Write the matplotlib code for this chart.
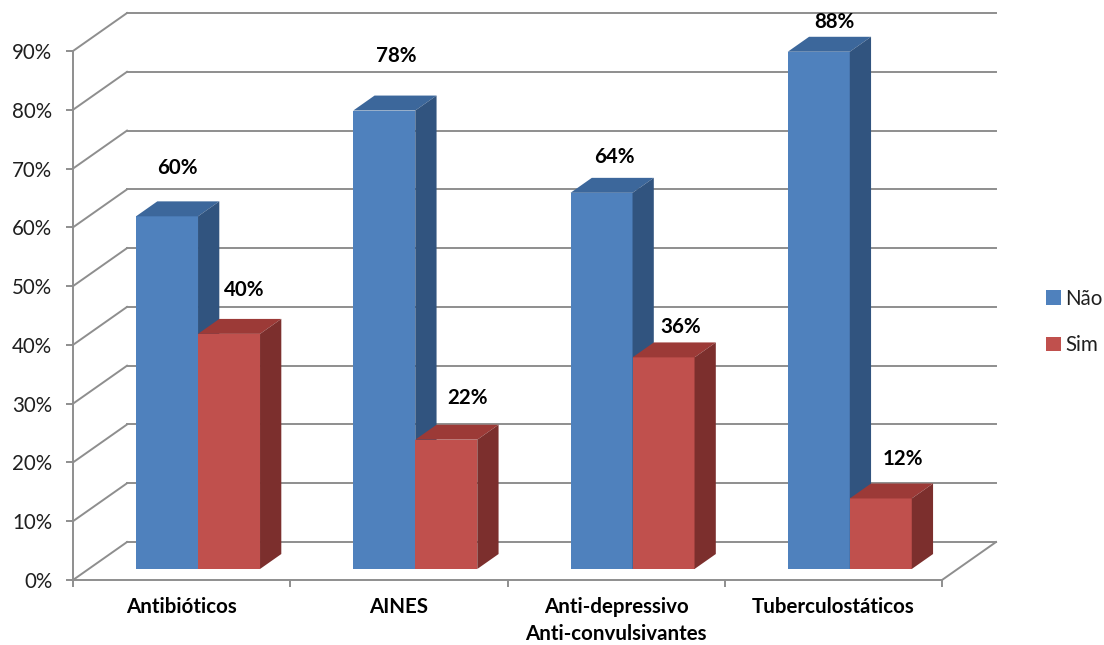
import matplotlib
matplotlib.use("Agg")
import matplotlib.pyplot as plt
from matplotlib.patches import Polygon, Patch

plt.rcParams['font.family'] = ['Lato', 'DejaVu Sans']

# ---- data -------------------------------------------------------------
categories = ["Antibióticos", "AINES", "Anti-depressivo\nAnti-convulsivantes", "Tuberculostáticos"]
nao = [60, 78, 64, 88]
sim = [40, 22, 36, 12]
series_names = ["Não", "Sim"]
y_ticks = [0, 10, 20, 30, 40, 50, 60, 70, 80, 90]

# label nudges (pixels right, pixels up) from the front-top centre of each bar
nao_label_nudge = [(10, 48), (12, 55), (13, 36), (16, 30)]
sim_label_nudge = [(15, 44), (21, 42), (17, 30), (22, 39)]

# ---- styling ----------------------------------------------------------
GRID = "#8e8e8e"
TEXT = "#1f1f1f"
FS = 14.8
faces = {
    "Não": ("#4f81bd", "#3c679b", "#31547f"),   # front, top, side
    "Sim": ("#c0504d", "#9c3a37", "#7c2f2d"),
}

W, H = 1104, 645
fig = plt.figure(figsize=(W / 100, H / 100), dpi=100)
ax = fig.add_axes([73 / W, 65 / H, 869 / W, 529 / H])
ax.set_xlim(0, 4)
ax.set_ylim(0, 90)

# oblique projection of the depth axis (full depth of the floor)
DX = 0.2486     # in category units
DY = 6.46       # in percent units
Z0, Z1 = 0.29, 0.684   # bars occupy this slice of the depth
INSET = 0.218   # gap from category start to first bar
BW = 0.2854     # bar width

# back wall gridlines and left wall diagonals
for v in y_ticks:
    ax.plot([0, DX], [v, v + DY], color=GRID, lw=1.4, clip_on=False, zorder=1)
    ax.plot([DX, 4 + DX], [v + DY, v + DY], color=GRID, lw=1.4, clip_on=False, zorder=1)
# right edge of the floor
ax.plot([4, 4 + DX], [0, DY], color=GRID, lw=1.4, clip_on=False, zorder=1)


def draw_bar(x_left, value, name):
    front, top, side = faces[name]
    b = Z0 * DY
    xl = x_left + Z0 * DX
    xr = xl + BW
    t = b + value
    ddx, ddy = (Z1 - Z0) * DX, (Z1 - Z0) * DY
    ax.bar(xl, value, width=BW, bottom=b, align="edge", color=front,
           linewidth=0, zorder=3, clip_on=False)
    ax.add_patch(Polygon([(xl, t), (xr, t), (xr + ddx, t + ddy), (xl + ddx, t + ddy)],
                         closed=True, facecolor=top, edgecolor="none", zorder=3, clip_on=False))
    ax.add_patch(Polygon([(xr, b), (xr + ddx, b + ddy), (xr + ddx, t + ddy), (xr, t)],
                         closed=True, facecolor=side, edgecolor="none", zorder=3, clip_on=False))
    return xl + BW / 2, t


for i in range(len(categories)):
    for j, (vals, nudges, name) in enumerate(((nao, nao_label_nudge, "Não"),
                                              (sim, sim_label_nudge, "Sim"))):
        cx, ty = draw_bar(i + INSET + j * BW, vals[i], name)
        ndx, ndy = nudges[i]
        ax.annotate(f"{vals[i]}%", (cx, ty), xytext=(ndx * 0.72, ndy * 0.72),
                    textcoords="offset points", ha="center", va="center",
                    fontsize=FS, fontweight="bold", color="black", zorder=5,
                    annotation_clip=False)

# axes frame
for s in ("top", "right"):
    ax.spines[s].set_visible(False)
for s in ("left", "bottom"):
    ax.spines[s].set_color(GRID)
    ax.spines[s].set_linewidth(1.4)

ax.set_yticks(y_ticks)
ax.set_yticklabels([f"{v}%" for v in y_ticks])
ax.tick_params(axis="y", direction="out", length=5, width=1.4, color=GRID,
               pad=10, labelsize=FS, labelcolor=TEXT)

ax.set_xticks([0, 1, 2, 3, 4])
ax.set_xticklabels([])
ax.tick_params(axis="x", which="major", direction="out", length=5, width=1.4, color=GRID)
ax.set_xticks([i + 0.5 for i in range(len(categories))], minor=True)
ax.set_xticklabels(categories, minor=True, fontweight="bold", fontsize=FS,
                   color="black", linespacing=1.45)
ax.tick_params(axis="x", which="minor", length=0, pad=12)
for lab in ax.get_xticklabels(minor=True):
    lab.set_verticalalignment("top")

handles = [Patch(facecolor=faces[n][0], edgecolor="none") for n in series_names]
fig.legend(handles, series_names, loc="center left",
           bbox_to_anchor=(1036 / W, 1 - 322 / H), frameon=False,
           fontsize=FS, handlelength=0.7, handleheight=0.7,
           handletextpad=0.22, labelspacing=1.3, borderpad=0,
           labelcolor=TEXT)

fig.savefig("out.png", dpi=100, facecolor="white")
